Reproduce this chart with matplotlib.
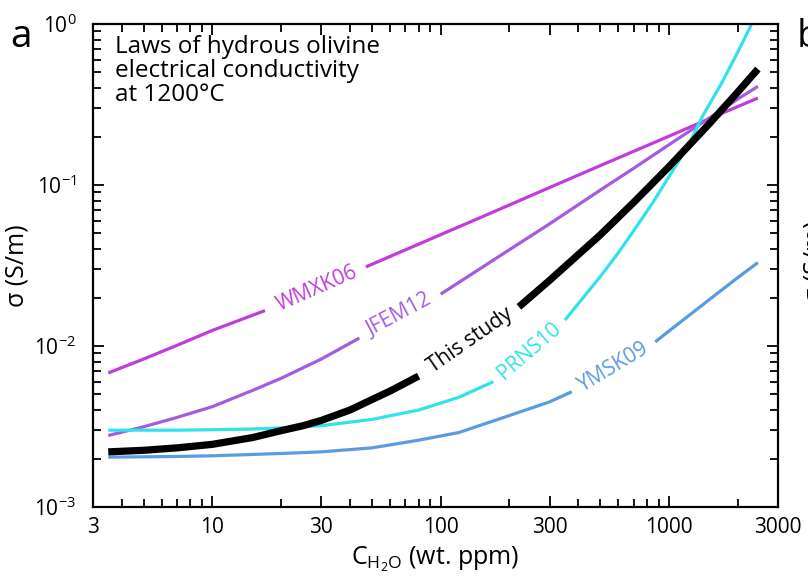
import matplotlib
matplotlib.use("Agg")
import matplotlib.pyplot as plt
from matplotlib.ticker import FixedLocator, LogLocator, NullFormatter

plt.rcParams['font.family'] = ['Open Sans', 'DejaVu Sans']
plt.rcParams['mathtext.fontset'] = 'custom'
plt.rcParams['mathtext.rm'] = 'Open Sans'
plt.rcParams['mathtext.it'] = 'Open Sans:italic'

nan = float('nan')

# water content (wt. ppm) vs conductivity (S/m)
# nan = break in the line where the name is written
study_x = [3.5, 5, 7, 10, 15, 20, 25, 30, 40, 50, 60, 80, nan,
           220, 300, 500, 700, 1000, 1500, 2000, 2450]
study_y = [2.2e-3, 2.25e-3, 2.33e-3, 2.45e-3, 2.7e-3, 2.98e-3, 3.2e-3, 3.45e-3, 4.0e-3, 4.65e-3, 5.25e-3, 6.5e-3, nan,
           0.0175, 0.0256, 0.049, 0.078, 0.130, 0.240, 0.378, 0.525]

wmxk_x = [3.5, 5, 7, 10, 17, nan, 47, 90, 150, 300, 500, 1000, 1500, 2450]
wmxk_y = [6.8e-3, 8.3e-3, 1.01e-2, 1.25e-2, 1.66e-2, nan, 0.031, 0.0461, 0.063, 0.0965, 0.132, 0.201, 0.258, 0.347]

jfem_x = [3.5, 5, 7, 10, 15, 20, 30, 44, nan, 100, 180, 300, 500, 700, 1000, 1400, 2000, 2450]
jfem_y = [2.78e-3, 3.15e-3, 3.6e-3, 4.2e-3, 5.3e-3, 6.3e-3, 8.3e-3, 1.12e-2, nan,
          0.021, 0.036, 0.0574, 0.093, 0.127, 0.178, 0.244, 0.342, 0.41]

prns_x = [3.5, 5, 7, 10, 15, 20, 30, 50, 80, 120, 170, nan,
          350, 500, 600, 700, 850, 1000, 1200, 1400, 1700, 2000, 2300]
prns_y = [3.0e-3, 3.0e-3, 3.0e-3, 3.02e-3, 3.05e-3, 3.1e-3, 3.2e-3, 3.5e-3, 4.0e-3, 4.8e-3, 6.0e-3, nan,
          0.0145, 0.027, 0.038, 0.052, 0.078, 0.113, 0.170, 0.267, 0.43, 0.67, 1.0]

ymsk_x = [3.5, 5, 7, 10, 15, 20, 30, 50, 80, 120, 200, 300, 375, nan, 870, 1000, 1500, 2000, 2450]
ymsk_y = [2.04e-3, 2.05e-3, 2.06e-3, 2.08e-3, 2.12e-3, 2.15e-3, 2.2e-3, 2.33e-3, 2.6e-3, 2.9e-3,
          3.7e-3, 4.5e-3, 5.2e-3, nan, 0.0106, 0.0124, 0.0194, 0.0266, 0.033]

x_ticks = [3, 10, 30, 100, 300, 1000, 3000]
x_tick_labels = ['3', '10', '30', '100', '300', '1000', '3000']
y_ticks = [1e-3, 1e-2, 1e-1, 1]
y_tick_labels = [r'$\mathregular{10^{-3}}$', r'$\mathregular{10^{-2}}$',
                 r'$\mathregular{10^{-1}}$', r'$\mathregular{10^{0}}$']

c_wmxk = '#c23cdc'
c_jfem = '#a35ce0'
c_prns = '#30e3e8'
c_ymsk = '#5b9be2'

fig = plt.figure(figsize=(8.08, 5.81), dpi=100)
ax = fig.add_axes([93 / 808, 74 / 581, 685 / 808, 483 / 581])
ax.set_xscale('log')
ax.set_yscale('log')

ax.plot(ymsk_x, ymsk_y, color=c_ymsk, lw=2.3, solid_capstyle='butt')
ax.plot(wmxk_x, wmxk_y, color=c_wmxk, lw=2.3, solid_capstyle='butt')
ax.plot(jfem_x, jfem_y, color=c_jfem, lw=2.3, solid_capstyle='butt')
ax.plot(prns_x, prns_y, color=c_prns, lw=2.3, solid_capstyle='butt')
ax.plot(study_x, study_y, color='black', lw=5.2, solid_capstyle='butt')

lab = dict(ha='center', va='center', rotation_mode='anchor', fontsize=15)
ax.text(28.6, 0.0227, 'WMXK06', color=c_wmxk, rotation=23.7, **lab)
ax.text(66, 0.0155, 'JFEM12', color=c_jfem, rotation=28, **lab)
ax.text(135, 0.0108, 'This study', color='black', rotation=34.8, **lab)
ax.text(244, 0.0093, 'PRNS10', color=c_prns, rotation=40.7, **lab)
ax.text(572, 0.0074, 'YMSK09', color=c_ymsk, rotation=31, **lab)

ax.text(0.032, 0.977, 'Laws of hydrous olivine\nelectrical conductivity\nat 1200°C',
        transform=ax.transAxes, ha='left', va='top', fontsize=17.5, linespacing=1.0)

ax.set_xlim(3, 3000)
ax.set_ylim(1e-3, 1)
ax.xaxis.set_major_locator(FixedLocator(x_ticks))
ax.set_xticklabels(x_tick_labels)
ax.xaxis.set_minor_locator(LogLocator(base=10, subs=range(2, 10), numticks=20))
ax.xaxis.set_minor_formatter(NullFormatter())
ax.yaxis.set_major_locator(FixedLocator(y_ticks))
ax.set_yticklabels(y_tick_labels)
ax.yaxis.set_minor_locator(LogLocator(base=10, subs=range(2, 10), numticks=20))
ax.yaxis.set_minor_formatter(NullFormatter())

ax.tick_params(which='both', direction='in', top=True, right=True, width=1.3,
               labelsize=15, color='black')
ax.tick_params(which='major', length=8)
ax.tick_params(axis='x', which='major', pad=7)
ax.tick_params(axis='y', which='major', pad=12)
ax.tick_params(which='minor', length=6)
for s in ax.spines.values():
    s.set_linewidth(1.6)

ax.set_xlabel(r'$\mathregular{C_{H_2O}}$ (wt. ppm)', fontsize=18, labelpad=5)
ax.set_ylabel('σ (S/m)', fontsize=18)
ax.yaxis.set_label_coords(-0.092, 0.5)

fig.text(10 / 808, 1 - 47 / 581, 'a', fontsize=28)
fig.text(797 / 808, 1 - 47 / 581, 'b', fontsize=28)
fig.text(802 / 808, 1 - 262 / 581, 'σ (S/m)', fontsize=18, rotation=90, ha='left', va='center')

fig.savefig('out.png', dpi=100)
